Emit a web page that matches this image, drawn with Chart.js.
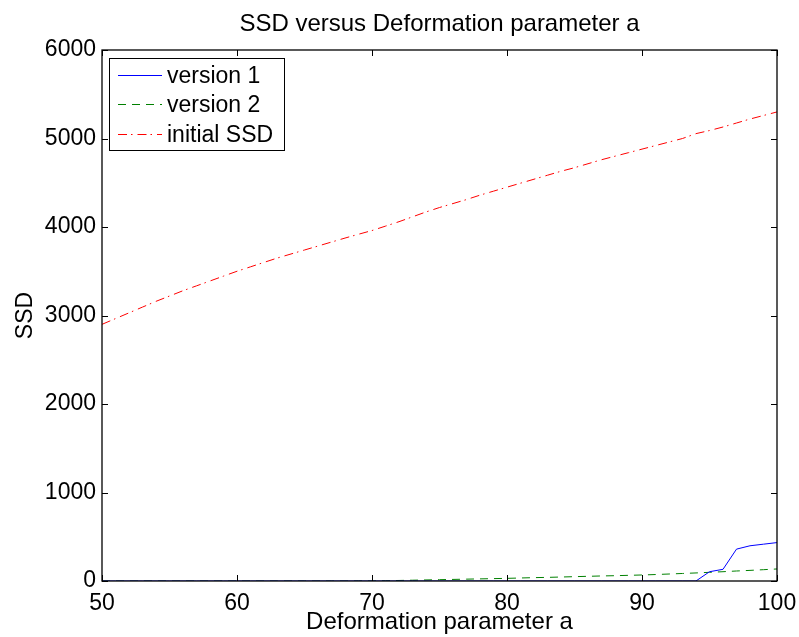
<!DOCTYPE html>
<html>
<head>
<meta charset="utf-8">
<script src="https://cdn.jsdelivr.net/npm/chart.js@4.4.1/dist/chart.umd.min.js"></script>
<style>
  html, body { margin: 0; padding: 0; background: #fff; }
  #wrap { width: 799px; height: 637px; }
</style>
</head>
<body>
<div id="wrap"><canvas id="ssdChart" width="799" height="637"></canvas></div>
<script>
// deformation parameter a (x axis)
var paramA = [50, 51, 52, 53, 54, 55, 56, 57, 58, 59,
  60, 61, 62, 63, 64, 65, 66, 67, 68, 69,
  70, 71, 72, 73, 74, 75, 76, 77, 78, 79,
  80, 81, 82, 83, 84, 85, 86, 87, 88, 89,
  90, 91, 92, 93, 94, 95, 96, 97, 98, 99, 100];

// SSD values
var version1 = [0, 0, 0, 0, 0, 0, 0, 0, 0, 0,
  0, 0, 0, 0, 0, 0, 0, 0, 0, 0,
  0, 0, 0, 0, 0, 0, 0, 0, 0, 0,
  0, 0, 0, 0, 0, 0, 0, 0, 0, 0,
  0, 0, 0, 0, 0, 105, 132, 360, 398, 416, 434];
var version2 = [0, 0, 0, 0, 0, 0, 0, 0, 0, 0,
  0, 0, 0, 0, 0, 0, 0, 0, 0, 1,
  1, 3, 6, 9, 12, 15, 18, 21, 24, 27,
  30, 34, 38, 41, 45, 49, 53, 57, 60, 64,
  68, 73, 79, 85, 91, 98, 105, 113, 120, 128, 136];
var initialSSD = [2900, 2965, 3030, 3095, 3160, 3220, 3280, 3335, 3390, 3445,
  3500, 3550, 3600, 3650, 3695, 3740, 3785, 3830, 3875, 3918,
  3960, 4010, 4060, 4115, 4170, 4220, 4265, 4310, 4360, 4405,
  4450, 4495, 4540, 4585, 4630, 4670, 4715, 4760, 4800, 4840,
  4880, 4920, 4960, 5000, 5055, 5090, 5130, 5175, 5220, 5260, 5300];

var seriesNames = ["version 1", "version 2", "initial SSD"];
var xTicks = [50, 60, 70, 80, 90, 100];
var yTicks = [0, 1000, 2000, 3000, 4000, 5000, 6000];

var FONT = "'Liberation Sans', Arial, Helvetica, sans-serif";

function toPoints(ys) {
  return paramA.map(function(a, i) { return { x: a, y: ys[i] }; });
}

// box round the plot + inward ticks on all four sides (matlab look)
var frameTicks = {
  id: "frameTicks",
  afterDatasetsDraw: function(chart) {
    var c = chart.ctx, area = chart.chartArea;
    var xs = chart.scales.x, ys = chart.scales.y;
    var len = 6;
    c.save();
    c.strokeStyle = "#000";
    c.lineWidth = 1;
    c.beginPath();
    xTicks.forEach(function(t) {
      var px = Math.round(xs.getPixelForValue(t)) + 0.5;
      c.moveTo(px, area.bottom); c.lineTo(px, area.bottom - len);
      c.moveTo(px, area.top); c.lineTo(px, area.top + len);
    });
    yTicks.forEach(function(t) {
      var py = Math.round(ys.getPixelForValue(t)) + 0.5;
      c.moveTo(area.left, py); c.lineTo(area.left + len, py);
      c.moveTo(area.right, py); c.lineTo(area.right - len, py);
    });
    c.stroke();
    c.lineWidth = 1.3;
    c.strokeRect(area.left, area.top, area.right - area.left, area.bottom - area.top);
    c.restore();
  }
};

// legend box in the upper left corner of the axes
var boxLegend = {
  id: "boxLegend",
  afterDraw: function(chart) {
    var c = chart.ctx, area = chart.chartArea;
    var bx = area.left + 7, by = area.top + 8, bw = 175, bh = 92;
    c.save();
    c.fillStyle = "#fff";
    c.fillRect(bx, by, bw, bh);
    c.strokeStyle = "#000";
    c.lineWidth = 1;
    c.strokeRect(bx + 0.5, by + 0.5, bw, bh);
    c.font = "23px " + FONT;
    c.textBaseline = "middle";
    chart.data.datasets.forEach(function(ds, i) {
      var ry = Math.round(by + 16.5 + i * 29.5) + 0.5;
      c.strokeStyle = ds.borderColor;
      c.lineWidth = 1.2;
      c.setLineDash(ds.borderDash || []);
      c.beginPath();
      c.moveTo(bx + 9, ry);
      c.lineTo(bx + 53, ry);
      c.stroke();
      c.setLineDash([]);
      c.fillStyle = "#000";
      c.fillText(ds.label, bx + 58, ry + 1);
    });
    c.restore();
  }
};

function plainTick(v) { return String(v); }

var ctx = document.getElementById("ssdChart").getContext("2d");
var chart = new Chart(ctx, {
  type: "line",
  data: {
    datasets: [
      {
        label: seriesNames[0],
        data: toPoints(version1),
        borderColor: "#0000ff",
        borderWidth: 1,
        pointRadius: 0,
        fill: false
      },
      {
        label: seriesNames[1],
        data: toPoints(version2),
        borderColor: "#008000",
        borderWidth: 1,
        borderDash: [8, 6],
        pointRadius: 0,
        fill: false
      },
      {
        label: seriesNames[2],
        data: toPoints(initialSSD),
        borderColor: "#ff0000",
        borderWidth: 1,
        borderDash: [9, 4, 1.5, 5],
        pointRadius: 0,
        fill: false
      }
    ]
  },
  options: {
    responsive: false,
    animation: false,
    devicePixelRatio: 1,
    layout: { padding: { left: 0, right: 22, top: 0, bottom: 0 } },
    plugins: {
      legend: { display: false },
      tooltip: { enabled: false },
      title: {
        display: true,
        fullSize: false,
        text: "SSD versus Deformation parameter a",
        color: "#000",
        font: { family: FONT, size: 24, weight: "normal" },
        padding: { top: 10, bottom: 11.2 }
      }
    },
    scales: {
      x: {
        type: "linear",
        min: 50,
        max: 100,
        grid: { display: false, drawTicks: false },
        border: { display: false },
        afterFit: function(s) {
          s.height = 56;
          s.paddingLeft = 0;
          s.paddingRight = 0;
        },
        afterBuildTicks: function(s) { s.ticks = xTicks.map(function(v) { return { value: v }; }); },
        ticks: {
          color: "#000",
          padding: 9,
          maxRotation: 0,
          callback: plainTick,
          font: { family: FONT, size: 23 }
        },
        title: {
          display: true,
          text: "Deformation parameter a",
          color: "#000",
          font: { family: FONT, size: 24 },
          padding: { top: 0, bottom: 0 }
        }
      },
      y: {
        type: "linear",
        min: 0,
        max: 6000,
        grid: { display: false, drawTicks: false },
        border: { display: false },
        afterFit: function(s) { s.width = 102; },
        afterBuildTicks: function(s) { s.ticks = yTicks.map(function(v) { return { value: v }; }); },
        ticks: {
          color: "#000",
          padding: 6,
          callback: plainTick,
          font: { family: FONT, size: 23 }
        },
        title: {
          display: true,
          text: "SSD",
          color: "#000",
          font: { family: FONT, size: 23 },
          padding: { top: 12, bottom: 0 }
        }
      }
    }
  },
  plugins: [frameTicks, boxLegend]
});
</script>
</body>
</html>
